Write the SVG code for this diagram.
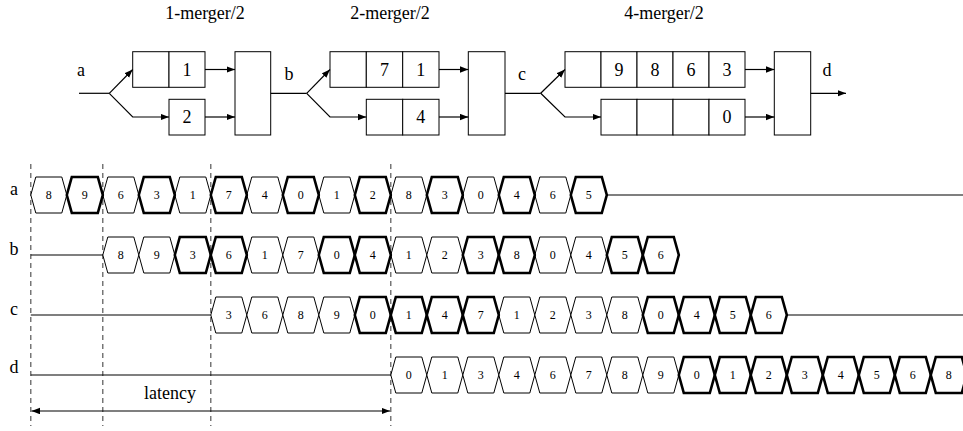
<svg xmlns="http://www.w3.org/2000/svg" xmlns:xlink="http://www.w3.org/1999/xlink" width="963" height="431" viewBox="0 0 963 431">
<style>
text{font-family:"Liberation Serif","Times New Roman",serif;fill:#000}
.lbl{font-size:18px;text-anchor:middle}
.dg{font-size:12px;text-anchor:middle}
.box{fill:#fff;stroke:#000;stroke-width:1}
.ln{fill:none;stroke:#000;stroke-width:1.2}
.arr{fill:none;stroke:#000;stroke-width:1.2;marker-end:url(#ah)}
.dash{stroke:#555;stroke-width:1.2;stroke-dasharray:5 4}
.t{fill:#fff;stroke:#000;stroke-width:1}
.b{fill:#fff;stroke:#000;stroke-width:2.6}
</style>
<defs>
<marker id="ah" markerWidth="9" markerHeight="7" refX="8.5" refY="3.25" orient="auto-start-reverse" markerUnits="userSpaceOnUse">
<path d="M0,0 L8.5,3.25 L0,6.5 z" fill="#000"/>
</marker>
<path id="hx" d="M0,0 L5,-18 L31,-18 L36,0 L31,18 L5,18 Z" stroke-linejoin="miter"/>
</defs>

<!-- titles -->
<text class="lbl" x="205" y="19">1-merger/2</text>
<text class="lbl" x="390" y="19">2-merger/2</text>
<text class="lbl" x="664" y="19">4-merger/2</text>

<!-- top signal labels -->
<text class="lbl" x="81" y="76">a</text>
<text class="lbl" x="289" y="80">b</text>
<text class="lbl" x="522" y="80">c</text>
<text class="lbl" x="827" y="76">d</text>

<!-- stage 1 -->
<g id="s1-upper">
<rect class="box" x="132.7" y="51.7" width="36.3" height="35.6"/>
<rect class="box" x="169" y="51.7" width="36" height="35.6"/>
<text class="lbl" x="187" y="76">1</text>
</g>
<g id="s1-lower">
<rect class="box" x="169" y="99.3" width="36" height="35.7"/>
<text class="lbl" x="187" y="123">2</text>
</g>
<g id="s1-merger"><rect class="box" x="235" y="51.7" width="35.7" height="83.3"/></g>

<!-- stage 2 -->
<g id="s2-upper">
<rect class="box" x="330" y="51.7" width="36.3" height="35.6"/>
<rect class="box" x="366.3" y="51.7" width="36.4" height="35.6"/>
<rect class="box" x="402.7" y="51.7" width="36.3" height="35.6"/>
<text class="lbl" x="384.5" y="76">7</text>
<text class="lbl" x="420.8" y="76">1</text>
</g>
<g id="s2-lower">
<rect class="box" x="366.3" y="99.3" width="36.4" height="35.7"/>
<rect class="box" x="402.7" y="99.3" width="36.3" height="35.7"/>
<text class="lbl" x="420.8" y="123">4</text>
</g>
<g id="s2-merger"><rect class="box" x="468.3" y="51.7" width="36.7" height="83.3"/></g>

<!-- stage 3 -->
<g id="s3-upper">
<rect class="box" x="565" y="51.7" width="36" height="35.6"/>
<rect class="box" x="601" y="51.7" width="36" height="35.6"/>
<rect class="box" x="637" y="51.7" width="36" height="35.6"/>
<rect class="box" x="673" y="51.7" width="36" height="35.6"/>
<rect class="box" x="709" y="51.7" width="36" height="35.6"/>
<text class="lbl" x="619" y="76">9</text>
<text class="lbl" x="655" y="76">8</text>
<text class="lbl" x="691" y="76">6</text>
<text class="lbl" x="727" y="76">3</text>
</g>
<g id="s3-lower">
<rect class="box" x="601" y="99.3" width="36" height="35.7"/>
<rect class="box" x="637" y="99.3" width="36" height="35.7"/>
<rect class="box" x="673" y="99.3" width="36" height="35.7"/>
<rect class="box" x="709" y="99.3" width="36" height="35.7"/>
<text class="lbl" x="727" y="123">0</text>
</g>
<g id="s3-merger"><rect class="box" x="774.3" y="51.7" width="36.4" height="83.3"/></g>

<g id="connectors">
<line class="ln" x1="79" y1="93.3" x2="109.3" y2="93.3"/>
<line class="arr" x1="109.3" y1="93.3" x2="132.7" y2="69.5"/>
<polyline class="arr" points="109.3,93.3 132.7,117 169,117"/>
<line class="arr" x1="205" y1="69.5" x2="235" y2="69.5"/>
<line class="arr" x1="205" y1="117" x2="235" y2="117"/>
<line class="ln" x1="270.7" y1="93.3" x2="306.7" y2="93.3"/>
<line class="arr" x1="306.7" y1="93.3" x2="330" y2="69.5"/>
<polyline class="arr" points="306.7,93.3 330,117 366.3,117"/>
<line class="arr" x1="439" y1="69.5" x2="468.3" y2="69.5"/>
<line class="arr" x1="439" y1="117" x2="468.3" y2="117"/>
<line class="ln" x1="505" y1="93.3" x2="540.7" y2="93.3"/>
<line class="arr" x1="540.7" y1="93.3" x2="565" y2="69.5"/>
<polyline class="arr" points="540.7,93.3 565,117 601,117"/>
<line class="arr" x1="745" y1="69.5" x2="774.3" y2="69.5"/>
<line class="arr" x1="745" y1="117" x2="774.3" y2="117"/>
<line class="arr" x1="810.7" y1="93.3" x2="846" y2="93.3"/>
</g>

<!-- timing diagram -->
<g id="guides">
<line class="dash" x1="30.8" y1="164" x2="30.8" y2="426"/>
<line class="dash" x1="102.8" y1="164" x2="102.8" y2="426"/>
<line class="dash" x1="210.8" y1="164" x2="210.8" y2="426"/>
<line class="dash" x1="390.8" y1="164" x2="390.8" y2="426"/>
</g>

<text class="lbl" x="14" y="195">a</text>
<text class="lbl" x="14" y="255">b</text>
<text class="lbl" x="14" y="315">c</text>
<text class="lbl" x="14" y="373">d</text>

<g id="row-a" transform="translate(0,195)">
<line class="ln" x1="606.8" y1="0" x2="963" y2="0"/>
<use href="#hx" class="t" x="30.8"/><use href="#hx" class="t" x="102.8"/><use href="#hx" class="t" x="174.8"/><use href="#hx" class="t" x="246.8"/><use href="#hx" class="t" x="318.8"/><use href="#hx" class="t" x="390.8"/><use href="#hx" class="t" x="462.8"/><use href="#hx" class="t" x="534.8"/>
<use href="#hx" class="b" x="66.8"/><use href="#hx" class="b" x="138.8"/><use href="#hx" class="b" x="210.8"/><use href="#hx" class="b" x="282.8"/><use href="#hx" class="b" x="354.8"/><use href="#hx" class="b" x="426.8"/><use href="#hx" class="b" x="498.8"/><use href="#hx" class="b" x="570.8"/>
<text class="dg" x="48.8" y="4">8</text><text class="dg" x="84.8" y="4">9</text><text class="dg" x="120.8" y="4">6</text><text class="dg" x="156.8" y="4">3</text><text class="dg" x="192.8" y="4">1</text><text class="dg" x="228.8" y="4">7</text><text class="dg" x="264.8" y="4">4</text><text class="dg" x="300.8" y="4">0</text><text class="dg" x="336.8" y="4">1</text><text class="dg" x="372.8" y="4">2</text><text class="dg" x="408.8" y="4">8</text><text class="dg" x="444.8" y="4">3</text><text class="dg" x="480.8" y="4">0</text><text class="dg" x="516.8" y="4">4</text><text class="dg" x="552.8" y="4">6</text><text class="dg" x="588.8" y="4">5</text>
</g>

<g id="row-b" transform="translate(0,255)">
<line class="ln" x1="30.8" y1="0" x2="102.8" y2="0"/>
<use href="#hx" class="t" x="102.8"/><use href="#hx" class="t" x="138.8"/><use href="#hx" class="t" x="246.8"/><use href="#hx" class="t" x="282.8"/><use href="#hx" class="t" x="390.8"/><use href="#hx" class="t" x="426.8"/><use href="#hx" class="t" x="534.8"/><use href="#hx" class="t" x="570.8"/>
<use href="#hx" class="b" x="174.8"/><use href="#hx" class="b" x="210.8"/><use href="#hx" class="b" x="318.8"/><use href="#hx" class="b" x="354.8"/><use href="#hx" class="b" x="462.8"/><use href="#hx" class="b" x="498.8"/><use href="#hx" class="b" x="606.8"/><use href="#hx" class="b" x="642.8"/>
<text class="dg" x="120.8" y="4">8</text><text class="dg" x="156.8" y="4">9</text><text class="dg" x="192.8" y="4">3</text><text class="dg" x="228.8" y="4">6</text><text class="dg" x="264.8" y="4">1</text><text class="dg" x="300.8" y="4">7</text><text class="dg" x="336.8" y="4">0</text><text class="dg" x="372.8" y="4">4</text><text class="dg" x="408.8" y="4">1</text><text class="dg" x="444.8" y="4">2</text><text class="dg" x="480.8" y="4">3</text><text class="dg" x="516.8" y="4">8</text><text class="dg" x="552.8" y="4">0</text><text class="dg" x="588.8" y="4">4</text><text class="dg" x="624.8" y="4">5</text><text class="dg" x="660.8" y="4">6</text>
</g>

<g id="row-c" transform="translate(0,315)">
<line class="ln" x1="30.8" y1="0" x2="210.8" y2="0"/>
<line class="ln" x1="786.8" y1="0" x2="963" y2="0"/>
<use href="#hx" class="t" x="210.8"/><use href="#hx" class="t" x="246.8"/><use href="#hx" class="t" x="282.8"/><use href="#hx" class="t" x="318.8"/><use href="#hx" class="t" x="498.8"/><use href="#hx" class="t" x="534.8"/><use href="#hx" class="t" x="570.8"/><use href="#hx" class="t" x="606.8"/>
<use href="#hx" class="b" x="354.8"/><use href="#hx" class="b" x="390.8"/><use href="#hx" class="b" x="426.8"/><use href="#hx" class="b" x="462.8"/><use href="#hx" class="b" x="642.8"/><use href="#hx" class="b" x="678.8"/><use href="#hx" class="b" x="714.8"/><use href="#hx" class="b" x="750.8"/>
<text class="dg" x="228.8" y="4">3</text><text class="dg" x="264.8" y="4">6</text><text class="dg" x="300.8" y="4">8</text><text class="dg" x="336.8" y="4">9</text><text class="dg" x="372.8" y="4">0</text><text class="dg" x="408.8" y="4">1</text><text class="dg" x="444.8" y="4">4</text><text class="dg" x="480.8" y="4">7</text><text class="dg" x="516.8" y="4">1</text><text class="dg" x="552.8" y="4">2</text><text class="dg" x="588.8" y="4">3</text><text class="dg" x="624.8" y="4">8</text><text class="dg" x="660.8" y="4">0</text><text class="dg" x="696.8" y="4">4</text><text class="dg" x="732.8" y="4">5</text><text class="dg" x="768.8" y="4">6</text>
</g>

<g id="row-d" transform="translate(0,375)">
<line class="ln" x1="30.8" y1="0" x2="390.8" y2="0"/>
<use href="#hx" class="t" x="390.8"/><use href="#hx" class="t" x="426.8"/><use href="#hx" class="t" x="462.8"/><use href="#hx" class="t" x="498.8"/><use href="#hx" class="t" x="534.8"/><use href="#hx" class="t" x="570.8"/><use href="#hx" class="t" x="606.8"/><use href="#hx" class="t" x="642.8"/>
<use href="#hx" class="b" x="678.8"/><use href="#hx" class="b" x="714.8"/><use href="#hx" class="b" x="750.8"/><use href="#hx" class="b" x="786.8"/><use href="#hx" class="b" x="822.8"/><use href="#hx" class="b" x="858.8"/><use href="#hx" class="b" x="894.8"/><use href="#hx" class="b" x="930.8"/>
<text class="dg" x="408.8" y="4">0</text><text class="dg" x="444.8" y="4">1</text><text class="dg" x="480.8" y="4">3</text><text class="dg" x="516.8" y="4">4</text><text class="dg" x="552.8" y="4">6</text><text class="dg" x="588.8" y="4">7</text><text class="dg" x="624.8" y="4">8</text><text class="dg" x="660.8" y="4">9</text><text class="dg" x="696.8" y="4">0</text><text class="dg" x="732.8" y="4">1</text><text class="dg" x="768.8" y="4">2</text><text class="dg" x="804.8" y="4">3</text><text class="dg" x="840.8" y="4">4</text><text class="dg" x="876.8" y="4">5</text><text class="dg" x="912.8" y="4">6</text><text class="dg" x="948.8" y="4">8</text>
</g>

<g id="latency">
<line x1="31.5" y1="411" x2="390" y2="411" stroke="#000" stroke-width="1.2" marker-start="url(#ah)" marker-end="url(#ah)"/>
<text class="lbl" x="170" y="399">latency</text>
</g>
</svg>
